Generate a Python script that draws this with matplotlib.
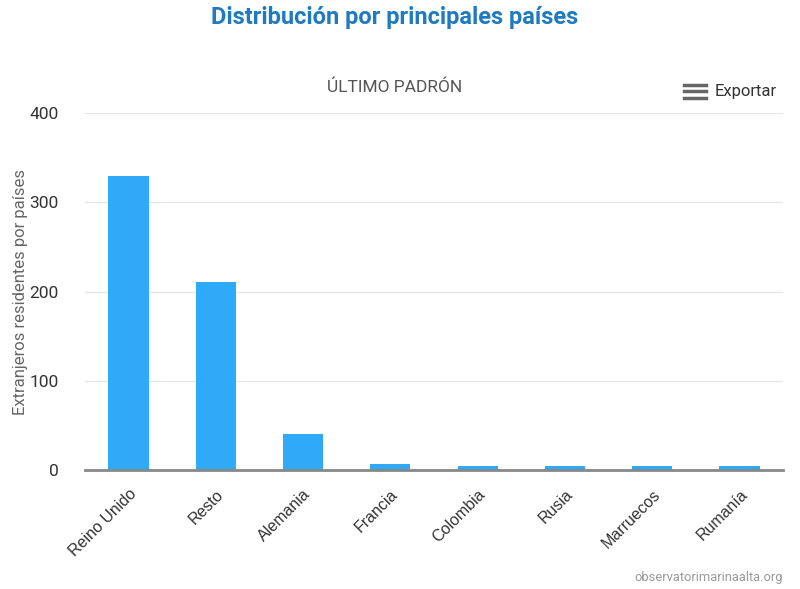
import matplotlib
matplotlib.use("Agg")
import matplotlib.pyplot as plt
from matplotlib.lines import Line2D

categories = ["Reino Unido", "Resto", "Alemania", "Francia", "Colombia", "Rusia", "Marruecos", "Rumanía"]
values = [329, 211, 40, 7, 5, 5, 4, 4]
yticks = [0, 100, 200, 300, 400]

plt.rcParams['font.family'] = ['Roboto', 'DejaVu Sans']

fig = plt.figure(figsize=(8, 5.89), dpi=100)
fig.patch.set_facecolor('white')
ax = fig.add_axes([0.106, 0.202, 0.873, 0.606])

x = list(range(len(categories)))
ax.bar(x, values, width=0.46, color='#2eaaf8', zorder=3)
ax.set_xlim(-0.5, len(categories) - 0.5)
ax.set_ylim(0, 400)
ax.set_yticks(yticks)
ax.set_yticklabels([str(v) for v in yticks], fontsize=12.5, color='#333333')
ax.set_xticks(x)
ax.set_xticklabels(categories, rotation=45, ha='right', rotation_mode='anchor',
                   fontsize=11.5, color='#333333', family=['Liberation Sans', 'DejaVu Sans'])
ax.tick_params(axis='x', length=0, pad=12)
ax.tick_params(axis='y', length=0, pad=19)
ax.grid(axis='y', color='#e6e6e6', linewidth=1, zorder=0)
for s in ['top', 'right', 'left']:
    ax.spines[s].set_visible(False)
ax.spines['bottom'].set_color('#888888')
ax.spines['bottom'].set_linewidth(2)
ax.spines['bottom'].set_zorder(4)
ax.set_ylabel("Extranjeros residentes por países", fontsize=12, color='#666666', labelpad=1)

fig.text(0.493, 0.97, "Distribución por principales países", ha='center', va='center',
         fontsize=17, fontweight='bold', color='#1e7bc0')
fig.text(0.493, 0.852, "ÚLTIMO PADRÓN", ha='center', va='center', fontsize=12.5, color='#555555')
fig.text(0.971, 0.845, "Exportar", ha='right', va='center', fontsize=12, color='#333333')
for yy in [0.834, 0.845, 0.856]:
    fig.add_artist(Line2D([0.855, 0.882], [yy, yy], color='#666666', linewidth=2.5,
                          transform=fig.transFigure))
fig.text(0.979, 0.02, "observatorimarinaalta.org", ha='right', va='center', fontsize=9.3,
         color='#999999')

fig.savefig("out.png", dpi=100)
